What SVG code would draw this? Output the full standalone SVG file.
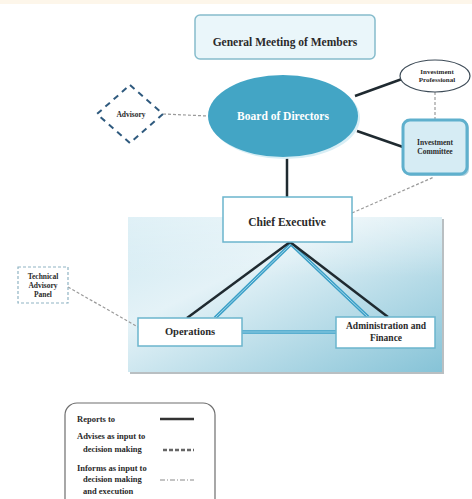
<svg xmlns="http://www.w3.org/2000/svg" width="472" height="499" viewBox="0 0 472 499">
<defs>
<linearGradient id="panelGrad" x1="0" y1="0" x2="1" y2="1">
<stop offset="0" stop-color="#cfe9f2"/>
<stop offset="0.35" stop-color="#e4f2f7"/>
<stop offset="1" stop-color="#86c3d7"/>
</linearGradient>
<linearGradient id="panelTop" x1="0" y1="0" x2="0" y2="1">
<stop offset="0" stop-color="#ffffff" stop-opacity="0.35"/>
<stop offset="1" stop-color="#ffffff" stop-opacity="0"/>
</linearGradient>
<style>
text{font-family:"Liberation Serif","Times New Roman",serif;font-weight:bold;fill:#2a2a2a;text-anchor:middle}
.lg{text-anchor:start;font-size:8.5px}
.box{fill:#ffffff;stroke:#6bb5cd;stroke-width:1.5}
.report{stroke:#1f2a30;stroke-width:2.5;fill:none}
.advise{stroke:#3a9fc7;stroke-width:3.5;fill:none}
.adviseIn{stroke:#a6d8ea;stroke-width:1;fill:none}
.inform{stroke:#9a9a9a;stroke-width:1.2;stroke-dasharray:3 2;fill:none}
</style>
</defs>
<rect width="472" height="499" fill="#ffffff"/>
<rect x="0" y="0" width="472" height="4" fill="#fdf6ea"/>

<g id="panel">
<rect x="130" y="219" width="314" height="155" fill="#b9bfc2"/>
<rect x="128" y="217" width="314" height="155" fill="url(#panelGrad)"/>
<rect x="128" y="217" width="314" height="60" fill="url(#panelTop)"/>
</g>

<g id="connectors">
<line class="inform" x1="163" y1="114" x2="208" y2="116"/>
<line class="inform" x1="435" y1="92" x2="435" y2="120"/>
<line class="inform" x1="352" y1="213" x2="434" y2="177"/>
<line class="inform" x1="68" y1="287" x2="138" y2="327"/>
<line class="report" x1="355" y1="96" x2="402" y2="79"/>
<line class="report" x1="357" y1="131" x2="403" y2="147"/>
<line class="report" x1="287" y1="158" x2="287" y2="197"/>
<line class="advise" x1="291" y1="244" x2="215" y2="318"/>
<line class="adviseIn" x1="291" y1="244" x2="215" y2="318"/>
<line class="advise" x1="291" y1="244" x2="368" y2="317"/>
<line class="adviseIn" x1="291" y1="244" x2="368" y2="317"/>
<line class="advise" x1="242" y1="332" x2="336" y2="332"/>
<line class="adviseIn" x1="242" y1="332" x2="336" y2="332"/>
<line class="report" x1="290" y1="242" x2="187" y2="318"/>
<line class="report" x1="290" y1="242" x2="388" y2="317"/>
</g>

<g id="general-meeting">
<rect x="195" y="15" width="180" height="44" rx="5" fill="#eaf6fa" stroke="#86bccc" stroke-width="1.5"/>
<text x="285" y="46" font-size="11.5">General Meeting of Members</text>
</g>

<g id="board">
<ellipse cx="285" cy="118" rx="75" ry="41" fill="#d8eef5"/>
<ellipse cx="283" cy="116" rx="75" ry="41" fill="#43a5c5"/>
<text x="283" y="120" font-size="11.5" style="fill:#ffffff">Board of Directors</text>
</g>

<g id="advisory">
<polygon points="130,85 163,114 130,143 97,114" fill="#ffffff" stroke="#2f5a7e" stroke-width="2" stroke-dasharray="6 5"/>
<text x="131" y="117" font-size="7.5">Advisory</text>
</g>

<g id="investment-professional">
<ellipse cx="435" cy="76" rx="35" ry="16" fill="#ffffff" stroke="#3d4b57" stroke-width="1.2"/>
<text x="437" y="74" font-size="7">Investment</text>
<text x="437" y="82" font-size="7">Professional</text>
</g>

<g id="investment-committee">
<rect x="404" y="121" width="65" height="55" rx="7" fill="#a9cfdd"/>
<rect x="403" y="120" width="64" height="54" rx="7" fill="#d6ecf4" stroke="#5fb0cd" stroke-width="3"/>
<text x="435" y="145" font-size="7.5">Investment</text>
<text x="435" y="154" font-size="7.5">Committee</text>
</g>

<g id="chief-executive">
<rect class="box" x="223" y="197" width="129" height="45"/>
<text x="287" y="226" font-size="11.5">Chief Executive</text>
</g>

<g id="technical-advisory-panel">
<rect x="18" y="267" width="50" height="36" fill="#ffffff" stroke="#8fb4c4" stroke-width="1.2" stroke-dasharray="3 2"/>
<text x="43" y="279" font-size="7.5">Technical</text>
<text x="43" y="288" font-size="7.5">Advisory</text>
<text x="43" y="297" font-size="7.5">Panel</text>
</g>

<g id="operations">
<rect class="box" x="138" y="318" width="104" height="28"/>
<text x="190" y="335" font-size="10.5">Operations</text>
</g>

<g id="administration-finance">
<rect class="box" x="336" y="317" width="99" height="31"/>
<text x="386" y="329" font-size="9.5">Administration and</text>
<text x="386" y="341" font-size="9.5">Finance</text>
</g>

<g id="legend">
<rect x="65" y="403" width="150" height="110" rx="12" fill="#ffffff" stroke="#6e6e6e" stroke-width="1.2"/>
<text class="lg" x="77" y="422">Reports to</text>
<line x1="160" y1="419" x2="194" y2="419" stroke="#333333" stroke-width="2.5"/>
<text class="lg" x="77" y="439">Advises as input to</text>
<text class="lg" x="83" y="452">decision making</text>
<line x1="163" y1="450" x2="194" y2="450" stroke="#666666" stroke-width="2.5" stroke-dasharray="4 2"/>
<text class="lg" x="77" y="471">Informs as input to</text>
<text class="lg" x="83" y="482">decision making</text>
<text class="lg" x="83" y="494">and execution</text>
<line x1="160" y1="480" x2="194" y2="480" stroke="#888888" stroke-width="1" stroke-dasharray="5 2 1 2"/>
</g>
</svg>
